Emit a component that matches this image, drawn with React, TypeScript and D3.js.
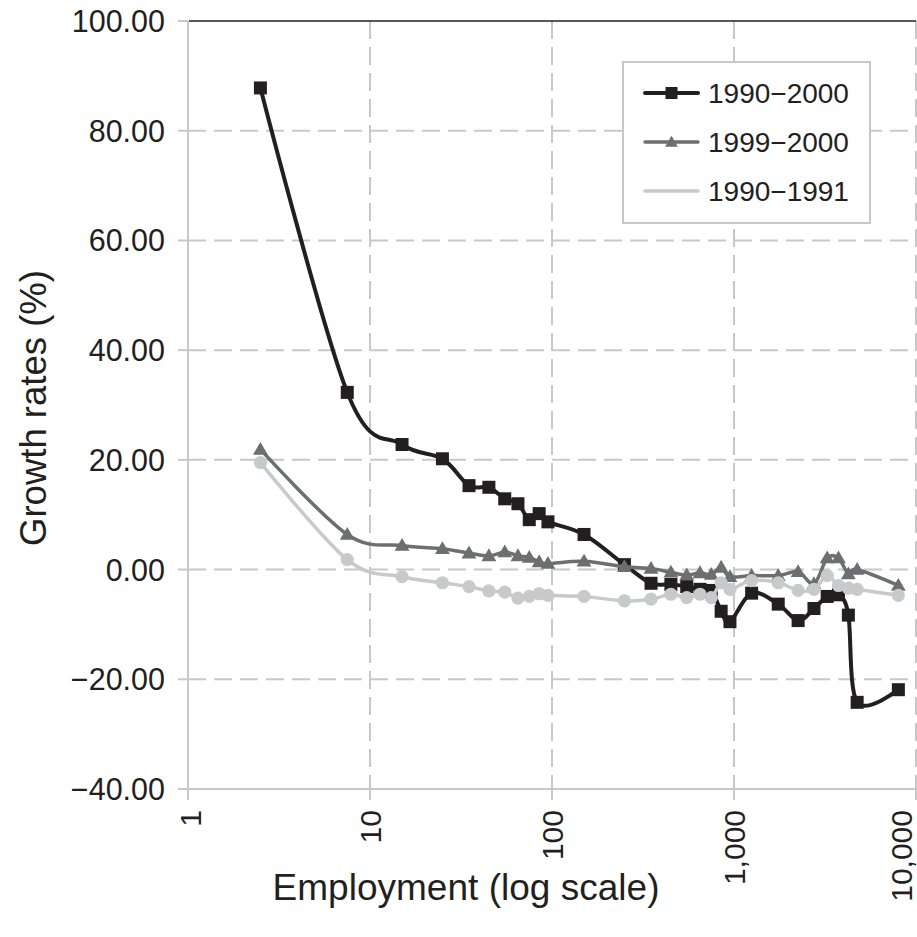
import * as d3 from "d3";

// size-class midpoints (employees)
const EMPLOYMENT = [
  2.5, 7.5, 15, 25, 35, 45, 55, 65, 75, 85, 95, 150, 250, 350, 450, 550, 650, 750, 850, 950,
  1250, 1750, 2250, 2750, 3250, 3750, 4250, 4750, 8000,
];

const GROWTH_1990_2000 = [
  87.8, 32.3, 22.8, 20.2, 15.3, 15.0, 12.9, 12.0, 9.1, 10.2, 8.7, 6.4, 0.9, -2.5, -2.7, -3.1,
  -3.6, -3.8, -7.6, -9.5, -4.3, -6.3, -9.3, -7.1, -4.9, -4.6, -8.3, -24.2, -21.9,
];

const GROWTH_1999_2000 = [
  21.9, 6.4, 4.4, 3.8, 3.0, 2.5, 3.2, 2.5, 2.2, 1.4, 1.1, 1.5, 0.5, 0.2, -0.5, -1.0, -0.6, -0.9,
  0.4, -1.3, -1.1, -1.1, -0.4, -2.6, 2.1, 2.1, -0.8, 0.0, -2.9,
];

const GROWTH_1990_1991 = [
  19.5, 1.8, -1.3, -2.4, -3.1, -3.9, -4.1, -5.2, -4.9, -4.4, -4.7, -4.9, -5.7, -5.4, -4.5, -5.1,
  -4.5, -5.1, -2.4, -3.6, -2.0, -2.4, -3.8, -3.6, -1.1, -2.9, -3.4, -3.6, -4.7,
];

const Y_TICKS = [-40, -20, 0, 20, 40, 60, 80, 100];
const X_TICKS = [1, 10, 100, 1000, 10000];

const W = 917;
const H = 937;
const m = { left: 188, right: 1, top: 21, bottom: 148 };
const FONT = "'Liberation Sans', Arial, Helvetica, sans-serif";

const BLACK = "#231f20";
const DARK = "#6d6e71";
const LIGHT = "#c8c9cb";
const GRID = "#c8c8c8";

type Series = { name: string; values: number[]; color: string; width: number; marker: "square" | "triangle" | "circle"; legendMarker: boolean };

const SERIES: Series[] = [
  { name: "1990\u22122000", values: GROWTH_1990_2000, color: BLACK, width: 4, marker: "square", legendMarker: true },
  { name: "1999\u22122000", values: GROWTH_1999_2000, color: DARK, width: 3.5, marker: "triangle", legendMarker: true },
  { name: "1990\u22121991", values: GROWTH_1990_1991, color: LIGHT, width: 3.5, marker: "circle", legendMarker: false },
];

function Marker({ kind, x, y, color, small }: { kind: Series["marker"]; x: number; y: number; color: string; small?: boolean }) {
  if (kind === "square") {
    const s = small ? 12 : 13;
    return <rect x={x - s / 2} y={y - s / 2} width={s} height={s} fill={color} />;
  }
  if (kind === "circle") return <circle cx={x} cy={y} r={6.6} fill={color} />;
  const tri = d3.symbol(d3.symbolTriangle, small ? 70 : 95)()!;
  return <path d={tri} transform={`translate(${x},${y + 1})`} fill={color} />;
}

export default function App() {
  const x = d3.scaleLog().domain([1, 10000]).range([m.left, W - m.right]);
  const y = d3.scaleLinear().domain([-40, 100]).range([H - m.bottom, m.top]);
  const fmtX = d3.format(",");
  const fmtY = (v: number) => (v < 0 ? "\u2212" + Math.abs(v).toFixed(2) : v.toFixed(2));

  const line = d3
    .line<number>()
    .x((_, i) => x(EMPLOYMENT[i]))
    .y((d) => y(d))
    .curve(d3.curveCardinal.tension(0));

  const y0 = y(-40);
  const yTop = y(100);

  return (
    <svg width={W} height={H} style={{ position: "absolute", left: 0, top: 0, background: "#fff" }} fontFamily={FONT}>
      {/* grid */}
      {Y_TICKS.filter((t) => t !== -40 && t !== 100).map((t) => (
        <line key={"gy" + t} x1={m.left} x2={W - m.right} y1={y(t)} y2={y(t)} stroke={GRID} strokeWidth={2} strokeDasharray="18 8" />
      ))}
      {X_TICKS.filter((t) => t !== 1).map((t) => (
        <line key={"gx" + t} x1={x(t)} x2={x(t)} y1={yTop} y2={y0} stroke={GRID} strokeWidth={2} strokeDasharray="18 8" />
      ))}
      {/* axes */}
      <line x1={m.left} x2={m.left} y1={yTop} y2={y0 + 11} stroke={GRID} strokeWidth={2} />
      <line x1={m.left - 10} x2={W - m.right} y1={y0} y2={y0} stroke={GRID} strokeWidth={2} />
      <line x1={m.left + 1} x2={W - m.right} y1={yTop} y2={yTop} stroke={BLACK} strokeWidth={1.5} />
      {Y_TICKS.map((t) => (
        <g key={"ty" + t}>
          <line x1={m.left - 10} x2={m.left} y1={y(t)} y2={y(t)} stroke={GRID} strokeWidth={2} />
          <text x={165} y={y(t)} dy="0.36em" textAnchor="end" fontSize={30.5} fill={BLACK}>
            {fmtY(t)}
          </text>
        </g>
      ))}
      {X_TICKS.map((t, i) => {
        const px = Math.min(x(t), W - 16);
        return (
          <g key={"tx" + t}>
            <line x1={x(t)} x2={x(t)} y1={y0} y2={y0 + 11} stroke={GRID} strokeWidth={2} />
            <text transform={`translate(${i === 0 ? px + 2 : px},${y0 + 21}) rotate(-90)`} dy="0.36em" textAnchor="end" fontSize={30} fill={BLACK}>
              {fmtX(t)}
            </text>
          </g>
        );
      })}
      <text x={466} y={900} textAnchor="middle" fontSize={37} fill={BLACK} textLength={387} lengthAdjust="spacingAndGlyphs">
        Employment (log scale)
      </text>
      <text transform={`translate(46,408) rotate(-90)`} textAnchor="middle" fontSize={37} fill={BLACK} textLength={276} lengthAdjust="spacingAndGlyphs">
        Growth rates (%)
      </text>

      {/* series */}
      {SERIES.map((s) => (
        <g key={s.name}>
          <path d={line(s.values)!} fill="none" stroke={s.color} strokeWidth={s.width} strokeLinejoin="round" />
          {s.values.map((v, i) => (
            <Marker key={i} kind={s.marker} x={x(EMPLOYMENT[i])} y={y(v)} color={s.color} />
          ))}
        </g>
      ))}

      {/* legend */}
      <g transform="translate(623,62)">
        <rect x={0} y={0} width={247} height={161} fill="#fff" stroke={GRID} strokeWidth={2} />
        {SERIES.map((s, i) => {
          const ly = 31 + i * 49;
          return (
            <g key={"lg" + s.name}>
              <line x1={22} x2={75} y1={ly} y2={ly} stroke={s.color} strokeWidth={s.width} strokeLinecap="round" />
              {s.legendMarker && <Marker kind={s.marker} x={48.5} y={ly} color={s.color} small />}
              <text x={85} y={ly} dy="0.36em" fontSize={28} fill={BLACK}>
                {s.name}
              </text>
            </g>
          );
        })}
      </g>
    </svg>
  );
}
